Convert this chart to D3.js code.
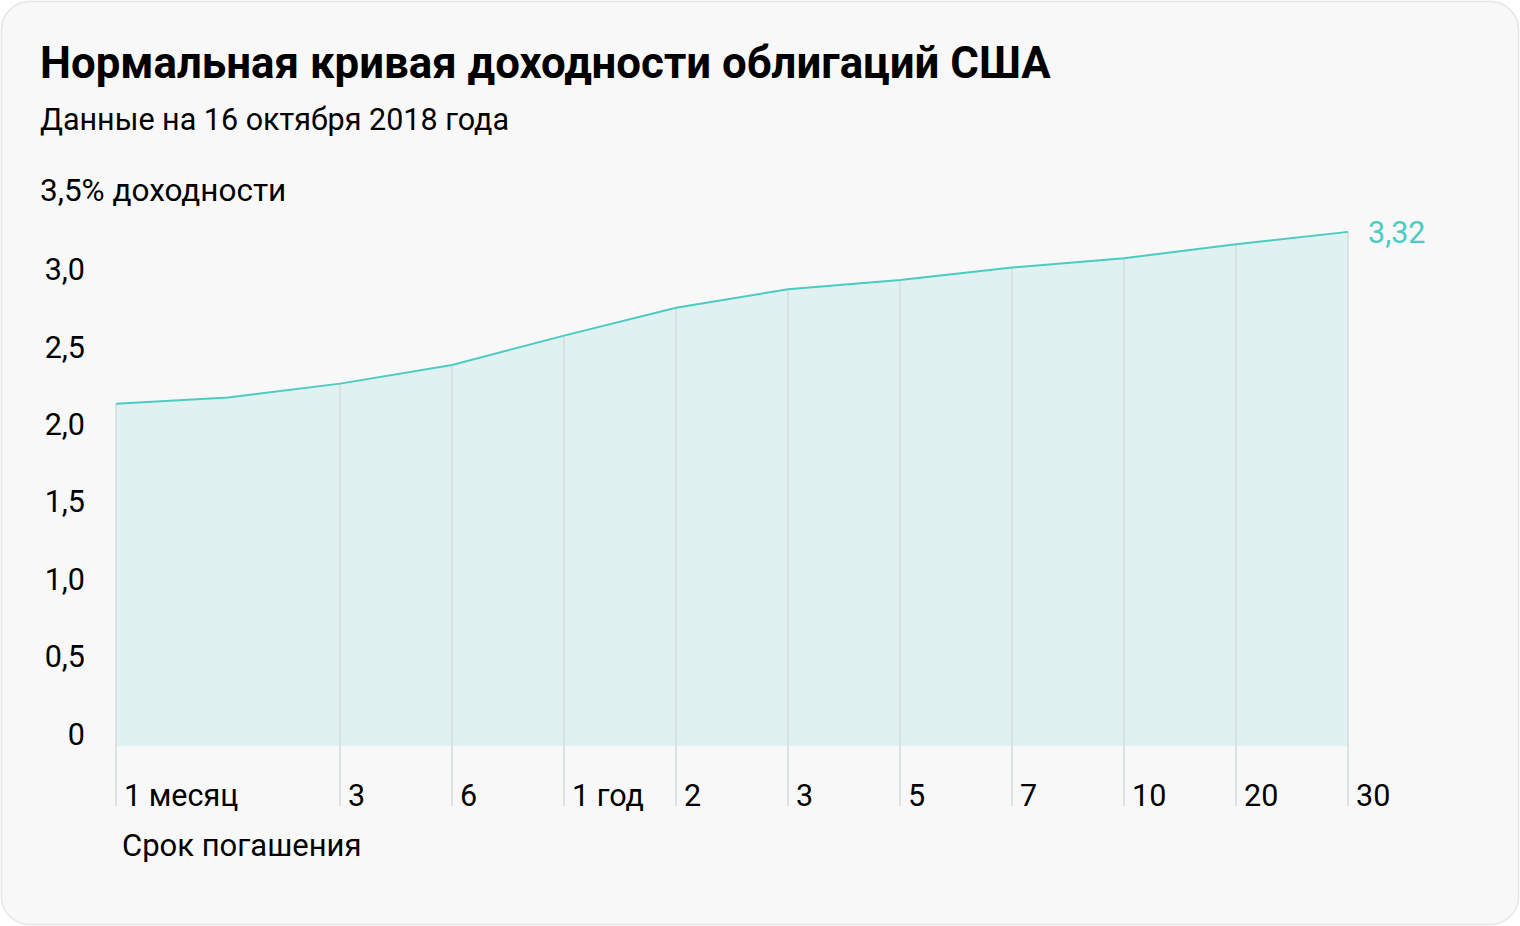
<!DOCTYPE html>
<html><head><meta charset="utf-8">
<script src="https://cdn.jsdelivr.net/npm/d3@7"></script>
<style>html,body{margin:0;padding:0;background:#fff;}svg{display:block;}</style>
</head><body>
<script>
const maturities = ["1m","2m","3m","6m","1y","2y","3y","5y","7y","10y","20y","30y"];
const tickLabels = ["1 месяц","","3","6","1 год","2","3","5","7","10","20","30"];
const showGrid = [true,false,true,true,true,true,true,true,true,true,true,true];
const yields = [2.21, 2.25, 2.34, 2.46, 2.65, 2.83, 2.95, 3.01, 3.09, 3.15, 3.24, 3.32];
const yTicks = [0, 0.5, 1.0, 1.5, 2.0, 2.5, 3.0];
const yTopLabel = "3,5% доходности";
const title = "Нормальная кривая доходности облигаций США";
const subtitle = "Данные на 16 октября 2018 года";
const xTitle = "Срок погашения";
const lastLabel = "3,32";

const W = 1520, H = 926;
const font = "Roboto, 'Noto Sans', sans-serif";
const fs = 30.5;
const svg = d3.select("body").append("svg").attr("width", W).attr("height", H);

svg.append("rect").attr("x", 1.5).attr("y", 1.5).attr("width", W - 3).attr("height", H - 3)
  .attr("rx", 28).attr("fill", "#f8f8f8").attr("stroke", "#e6e6e6").attr("stroke-width", 1.5);

svg.append("text").attr("x", 40).attr("y", 78).text(title)
  .attr("font-family", font).attr("font-weight", 700).attr("font-size", 43.8).attr("fill", "#000");
svg.append("text").attr("x", 40).attr("y", 130).text(subtitle)
  .attr("font-family", font).attr("font-size", fs).attr("fill", "#000");

const x = d3.scalePoint().domain(maturities).range([116, 1348]);
const y = d3.scaleLinear().domain([0, 3.5]).range([746, 204]);
const data = maturities.map((m, i) => ({m, v: yields[i], label: tickLabels[i], grid: showGrid[i]}));

// area
svg.append("path").datum(data)
  .attr("d", d3.area().x(d => x(d.m)).y0(y(0)).y1(d => y(d.v)))
  .attr("fill", "#dff1f0");

// vertical grid lines
svg.append("g").selectAll("line").data(data.filter(d => d.grid)).join("line")
  .attr("x1", d => x(d.m)).attr("x2", d => x(d.m))
  .attr("y1", d => y(d.v)).attr("y2", 806)
  .attr("stroke", "#d5dcdc").attr("stroke-width", 1.5);

// line
svg.append("path").datum(data)
  .attr("d", d3.line().x(d => x(d.m)).y(d => y(d.v)))
  .attr("fill", "none").attr("stroke", "#4ccbc1").attr("stroke-width", 2);

// y tick labels
const fmt = v => v === 0 ? "0" : d3.format(".1f")(v).replace(".", ",");
svg.append("g").selectAll("text").data(yTicks).join("text")
  .attr("x", 85).attr("y", d => y(d) - 12).attr("dy", "0.35em")
  .attr("text-anchor", "end").text(fmt)
  .attr("font-family", font).attr("font-size", fs).attr("fill", "#000");
svg.append("text").attr("x", 40).attr("y", y(3.5) - 14).attr("dy", "0.35em").text(yTopLabel)
  .attr("font-family", font).attr("font-size", 31.5).attr("fill", "#000");

// x tick labels
svg.append("g").selectAll("text").data(data.filter(d => d.label)).join("text")
  .attr("x", d => x(d.m) + 8).attr("y", 806).text(d => d.label)
  .attr("font-family", font).attr("font-size", fs).attr("fill", "#000");
svg.append("text").attr("x", 122).attr("y", 856).text(xTitle)
  .attr("font-family", font).attr("font-size", 31).attr("fill", "#000");

// end value label
const last = data[data.length - 1];
svg.append("text").attr("x", x(last.m) + 20).attr("y", y(last.v)).attr("dy", "0.35em").text(lastLabel)
  .attr("font-family", font).attr("font-size", fs).attr("fill", "#4ccbc1");
</script>
</body></html>
